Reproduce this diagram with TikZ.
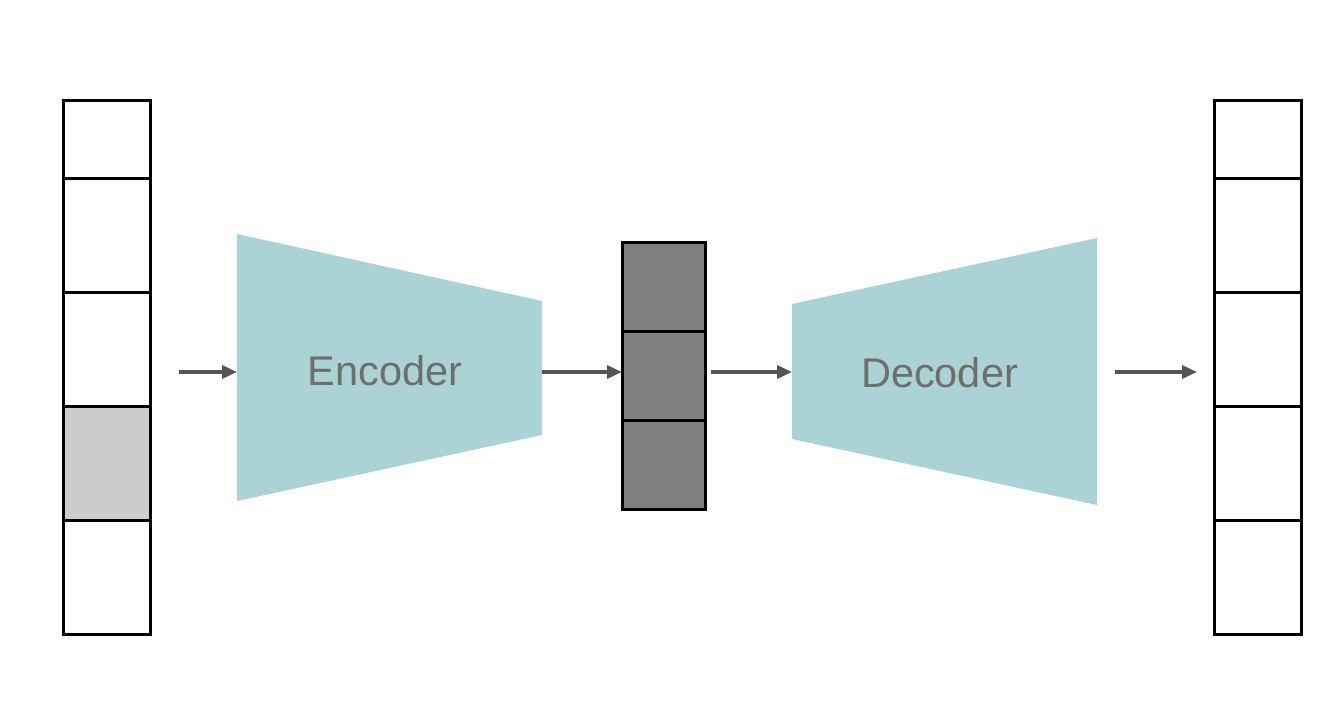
\documentclass[tikz,border=0pt]{standalone}
\usepackage{fontspec}
\setmainfont{Liberation Sans}
\usetikzlibrary{arrows.meta}
\definecolor{trap}{HTML}{ABD3D6}
\definecolor{txt}{HTML}{6E6E6E}
\definecolor{arr}{HTML}{555555}
\definecolor{lat}{HTML}{7F7F7F}
\definecolor{mask}{HTML}{CCCCCC}
\tikzset{
  cell/.style={draw=black, line width=3pt, inner sep=0pt, outer sep=0pt, minimum width=87pt, fill=white},
  latcell/.style={cell, minimum width=83pt, minimum height=89pt, fill=lat},
  flow/.style={draw=arr, line width=3.5pt, -{Triangle[length=15pt,width=13pt]}, shorten >=0pt},
  label/.style={text=txt, font=\fontsize{41.5}{41.5}\selectfont, inner sep=0pt},
}
\begin{document}
\begin{tikzpicture}[x=1pt,y=-1pt]
\useasboundingbox (0,0) rectangle (1342,702);
% input column
\node[cell, minimum height=78pt] (i1) at (106.5,139) {};
\node[cell, minimum height=114pt] (i2) at (106.5,235) {};
\node[cell, minimum height=114pt] (i3) at (106.5,349) {};
\node[cell, minimum height=114pt, fill=mask] (i4) at (106.5,463) {};
\node[cell, minimum height=114pt] (i5) at (106.5,577) {};
% output column
\node[cell, minimum height=78pt] (o1) at (1257.5,139) {};
\node[cell, minimum height=114pt] (o2) at (1257.5,235) {};
\node[cell, minimum height=114pt] (o3) at (1257.5,349) {};
\node[cell, minimum height=114pt] (o4) at (1257.5,463) {};
\node[cell, minimum height=114pt] (o5) at (1257.5,577) {};
% latent
\node[latcell] (z1) at (663.5,286.5) {};
\node[latcell] (z2) at (663.5,375.5) {};
\node[latcell] (z3) at (663.5,464.5) {};
% encoder / decoder
\fill[trap] (237,234) coordinate (encNW) -- (542,301) coordinate (encNE) -- (542,435) coordinate (encSE) -- (237,501) coordinate (encSW) -- cycle;
\fill[trap] (792,304) coordinate (decNW) -- (1097,238) coordinate (decNE) -- (1097,505) coordinate (decSE) -- (792,439) coordinate (decSW) -- cycle;
\node[label] (enc) at (385,371) {Encoder};
\node[label] (dec) at (939.5,373) {Decoder};
\coordinate (encW) at (237,372);
\coordinate (encE) at (542,372);
\coordinate (decW) at (792,372);
\coordinate (decE) at (1097,372);
\coordinate (a1s) at (179,372);
\coordinate (a2e) at (622,372);
\coordinate (a3s) at (711,372);
\coordinate (a4s) at (1115,372);
\coordinate (a4e) at (1197,372);
\draw[flow] (a1s) -- (encW);
\draw[flow] (encE) -- (a2e);
\draw[flow] (a3s) -- (decW);
\draw[flow] (a4s) -- (a4e);
\end{tikzpicture}
\end{document}
